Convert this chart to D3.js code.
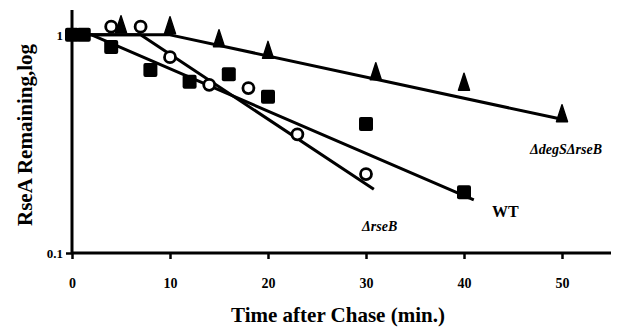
<!DOCTYPE html>
<html>
<head>
<meta charset="utf-8">
<script src="https://cdn.jsdelivr.net/npm/d3@7"></script>
<style>
  html, body { margin: 0; padding: 0; background: #fff; }
  svg { display: block; }
  text { font-family: "Liberation Serif", "DejaVu Serif", serif; font-weight: bold; fill: #000; }
</style>
</head>
<body>
<svg id="chart" width="639" height="335"></svg>
<script>
// Time points (min) and fraction of RseA remaining for each strain
const wtTime      = [0, 1.2, 4, 8, 12, 16, 20, 30, 40];
const wtValue     = [1.0, 1.0, 0.88, 0.69, 0.61, 0.66, 0.52, 0.39, 0.19];
const rseBTime    = [4, 7, 10, 14, 18, 23, 30];
const rseBValue   = [1.09, 1.09, 0.79, 0.59, 0.57, 0.35, 0.23];
const degSTime    = [5, 10, 15, 20, 31, 40, 50];
const degSValue   = [1.10, 1.09, 0.95, 0.84, 0.67, 0.60, 0.43];

// Fitted decay lines, as [time, fraction] vertices
const wtFit   = [[0, 1.0], [2, 1.0], [41, 0.175]];
const rseBFit = [[0, 1.0], [7, 1.0], [30.8, 0.196]];
const degSFit = [[0, 1.0], [10, 1.0], [50, 0.41]];

const xTicks = [0, 10, 20, 30, 40, 50];
const yTicks = [0.1, 1];

const svg = d3.select("#chart");
const x = d3.scaleLinear().domain([0, 55]).range([72, 611]);
const y = d3.scaleLog().domain([0.1, 1.3]).range([253, 10]);

// Axes
const xAxis = d3.axisBottom(x).tickValues(xTicks).tickSize(6).tickFormat(d3.format("d"));
const gx = svg.append("g").attr("transform", `translate(0,${y(0.1)})`).call(xAxis);
gx.select(".domain").attr("stroke", "#000").attr("stroke-width", 3).attr("d", `M${x(0)},0H${x(55)}`);
gx.selectAll(".tick line").attr("stroke", "#000").attr("stroke-width", 2.5);
gx.selectAll(".tick text").attr("dy", 0).attr("y", 35).style("font-size", "14px");

const yAxis = d3.axisLeft(y).tickValues(yTicks).tickSize(6).tickFormat(d => d === 1 ? "1" : "0.1");
const gy = svg.append("g").attr("transform", `translate(${x(0)},0)`).call(yAxis);
gy.select(".domain").attr("stroke", "#000").attr("stroke-width", 3).attr("d", `M0,${y(1.3)}V${y(0.1)}`);
gy.selectAll(".tick line").attr("stroke", "#000").attr("stroke-width", 2.5);
gy.selectAll(".tick text").attr("x", -9).style("font-size", "13px");

// Fit lines
const line = d3.line().x(d => x(d[0])).y(d => y(d[1]));
[degSFit, wtFit, rseBFit].forEach(f => {
  svg.append("path").datum(f).attr("d", line)
    .attr("fill", "none").attr("stroke", "#000").attr("stroke-width", 3)
    .attr("stroke-linejoin", "round");
});

// Markers
const zip = (t, v) => t.map((d, i) => [d, v[i]]);

svg.append("g").selectAll("path").data(zip(degSTime, degSValue)).join("path")
  .attr("transform", d => `translate(${x(d[0])},${y(d[1])})`)
  .attr("d", "M0,-10L5.5,7L-5.5,7Z").attr("fill", "#000")
  .attr("stroke", "#000").attr("stroke-width", 1.5).attr("stroke-linejoin", "round");

svg.append("g").selectAll("rect").data(zip(wtTime, wtValue)).join("rect")
  .attr("x", d => x(d[0]) - 7).attr("y", d => y(d[1]) - 7)
  .attr("width", 14).attr("height", 14).attr("rx", 2).attr("fill", "#000");

svg.append("g").selectAll("circle").data(zip(rseBTime, rseBValue)).join("circle")
  .attr("cx", d => x(d[0])).attr("cy", d => y(d[1])).attr("r", 5.5)
  .attr("fill", "#fff").attr("stroke", "#000").attr("stroke-width", 2.8);

// Series labels
svg.append("text").attr("x", 530).attr("y", 154)
  .style("font-style", "italic").style("font-size", "14px").text("ΔdegSΔrseB");
svg.append("text").attr("x", 362).attr("y", 231)
  .style("font-style", "italic").style("font-size", "14px").text("ΔrseB");
svg.append("text").attr("x", 492).attr("y", 217)
  .style("font-size", "16px").text("WT");

// Axis titles
svg.append("text").attr("x", 338).attr("y", 322).attr("text-anchor", "middle")
  .style("font-size", "21px").text("Time after Chase (min.)");
svg.append("text").attr("transform", "translate(32,135) rotate(-90)").attr("text-anchor", "middle")
  .style("font-size", "21px").text("RseA Remaining,log");
</script>
</body>
</html>
